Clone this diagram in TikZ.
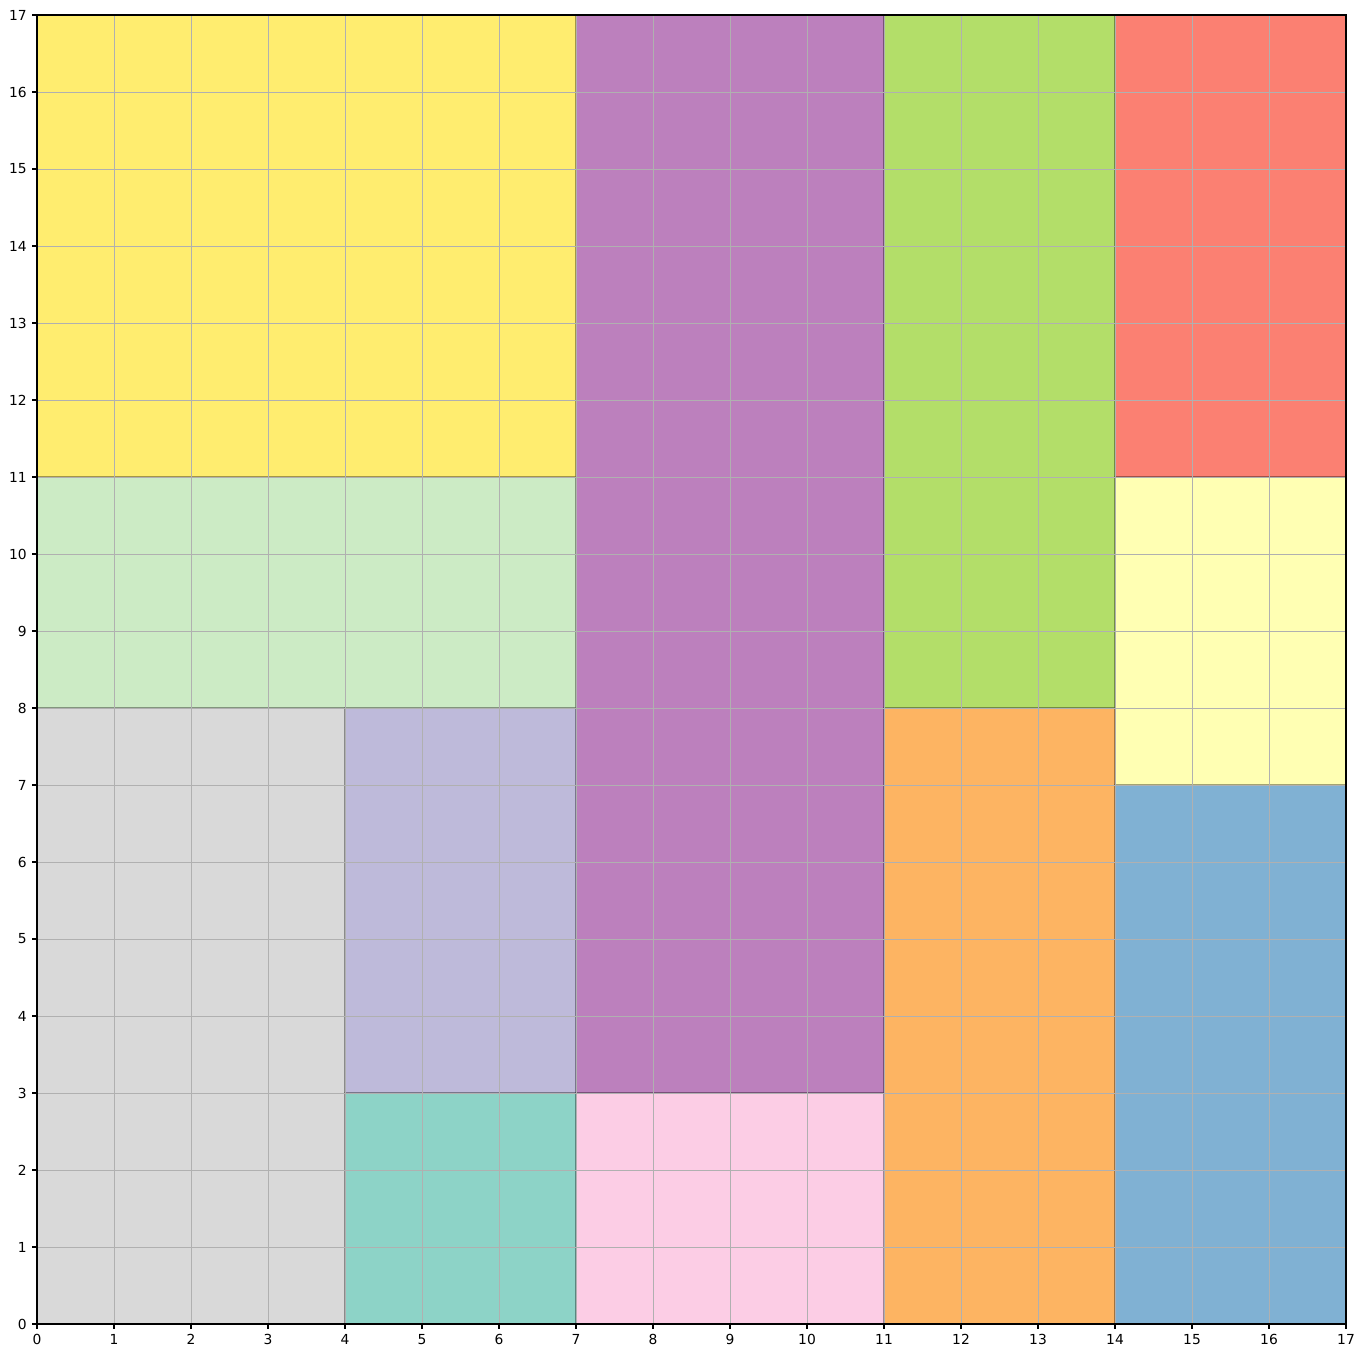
\documentclass[tikz,border=0pt]{standalone}
\usepackage{fontspec}
\setmainfont{DejaVu Sans}

\definecolor{boxyellow}{HTML}{FFED6F}
\definecolor{boxmint}{HTML}{CCEBC5}
\definecolor{boxgray}{HTML}{D9D9D9}
\definecolor{boxlavender}{HTML}{BEBADA}
\definecolor{boxteal}{HTML}{8DD3C7}
\definecolor{boxpurple}{HTML}{BC80BD}
\definecolor{boxpink}{HTML}{FCCDE5}
\definecolor{boxgreen}{HTML}{B3DE69}
\definecolor{boxorange}{HTML}{FDB462}
\definecolor{boxsalmon}{HTML}{FB8072}
\definecolor{boxcream}{HTML}{FFFFB3}
\definecolor{boxblue}{HTML}{80B1D3}
\definecolor{gridgray}{HTML}{B0B0B0}

\begin{document}
\begin{tikzpicture}[
  x=1.9558cm, y=1.9558cm,
  font=\fontsize{10}{12}\selectfont,
  block/.style={draw=black, draw opacity=0.2, line width=1pt},
  gridline/.style={draw=gridgray, line width=0.6pt},
  frame/.style={draw=black, line width=0.8pt},
  tick/.style={draw=black, line width=0.8pt},
  ticklabel/.style={inner sep=0pt, text=black}
]
\useasboundingbox (-0.4805,-0.4416) rectangle (17.2468,17.1948);

% packed rectangles: x/y/width/height/colour
\foreach \bx/\by/\bw/\bh/\bc in {
  0/11/7/6/boxyellow, 0/8/7/3/boxmint, 0/0/4/8/boxgray,
  4/3/3/5/boxlavender, 4/0/3/3/boxteal, 7/3/4/14/boxpurple,
  7/0/4/3/boxpink, 11/8/3/9/boxgreen, 11/0/3/8/boxorange,
  14/11/3/6/boxsalmon, 14/7/3/4/boxcream, 14/0/3/7/boxblue}
  \path[block, fill=\bc] (\bx,\by) rectangle ++(\bw,\bh);

% grid
\foreach \i in {0,...,17} {
  \draw[gridline] (\i,0) -- (\i,17);
  \draw[gridline] (0,\i) -- (17,\i);
}

% axes
\draw[frame] (0,0) rectangle (17,17);
\foreach \i in {0,...,17} {
  \draw[tick] (\i,0) -- ++(0,-3.5pt) node[ticklabel, below=3.5pt] (xt\i) {\i};
  \draw[tick] (0,\i) -- ++(-3.5pt,0) node[ticklabel, left=3.5pt] (yt\i) {\i};
}
\end{tikzpicture}
\end{document}
